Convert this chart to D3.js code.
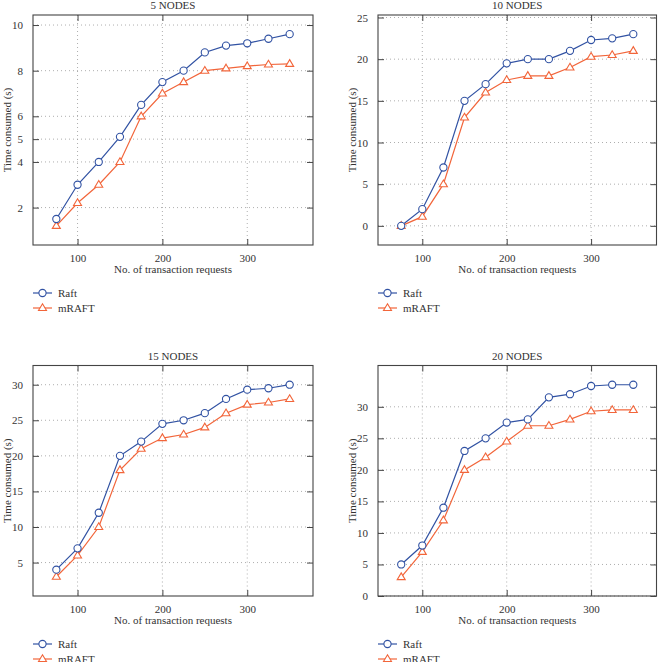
<!DOCTYPE html>
<html><head><meta charset="utf-8">
<script src="https://cdn.jsdelivr.net/npm/d3@7"></script>
<style>
body{margin:0;background:#fff;}
svg text{font-family:"Liberation Serif","Times New Roman","DejaVu Serif",serif !important;}
</style></head><body>
<svg id="c" width="658" height="662"></svg>
<script>
const requests = [75,100,125,150,175,200,225,250,275,300,325,350];
const xTicks = [100,200,300];
const seriesNames = ["Raft","mRAFT"];
const titles = ["5 NODES","10 NODES","15 NODES","20 NODES"];

const raft5  = [1.5,3.0,4.0,5.1,6.5,7.5,8.0,8.8,9.1,9.2,9.4,9.6];
const mraft5 = [1.2,2.2,3.0,4.0,6.0,7.0,7.5,8.0,8.1,8.2,8.27,8.3];
const raft10  = [0,2,7,15,17,19.5,20,20,21,22.3,22.5,23];
const mraft10 = [0,1.1,5,13,16,17.5,18,18,19,20.3,20.5,21];
const raft15  = [4,7,12,20,22,24.5,25,26,28,29.3,29.5,30];
const mraft15 = [3,6,10,18,21,22.5,23,24,26,27.2,27.5,28];
const raft20  = [5,8,14,23,25,27.5,28,31.5,32,33.3,33.5,33.5];
const mraft20 = [3,7,12,20,22,24.5,27,27,28,29.3,29.5,29.5];

const yTicks5  = [2,4,5,6,8,10];
const yTicks10 = [0,5,10,15,20,25];
const yTicks15 = [5,10,15,20,25,30];
const yTicks20 = [0,5,10,15,20,25,30];

const panels = [
  {title:titles[0], raft:raft5,  mraft:mraft5,  ticks:yTicks5,  yMin:null, x0:33,  y0:15,  w:280, h:230, lx:7},
  {title:titles[1], raft:raft10, mraft:mraft10, ticks:yTicks10, yMin:null, x0:378, y0:15,  w:278.5, h:230, lx:352},
  {title:titles[2], raft:raft15, mraft:mraft15, ticks:yTicks15, yMin:null, x0:33,  y0:365.5,w:280, h:230.5, lx:7},
  {title:titles[3], raft:raft20, mraft:mraft20, ticks:yTicks20, yMin:0,    x0:378, y0:365.5,w:278.5, h:230.5, lx:352}
];

const colors = {Raft:"#3152a3", mRAFT:"#f2653a"};
const svg = d3.select("#c");
const axisColor = "#444";
const fs = 11;
const txt = "#333";

function marker(g, name, x, y){
  if(name==="Raft"){
    g.append("circle").attr("cx",x).attr("cy",y).attr("r",3.6)
     .attr("fill","#fff").attr("stroke",colors.Raft).attr("stroke-width",1.1);
  } else {
    const s=4.2;
    g.append("path").attr("d",`M${x},${y-s}L${x+s*0.95},${y+s*0.6}L${x-s*0.95},${y+s*0.6}Z`)
     .attr("fill","#fff").attr("stroke",colors.mRAFT).attr("stroke-width",1.1);
  }
}

panels.forEach(p=>{
  const xr = d3.extent(requests), xpad = (xr[1]-xr[0])*0.1;
  const all = p.raft.concat(p.mraft);
  const yr = d3.extent(all), ypad = (yr[1]-yr[0])*0.1;
  const x = d3.scaleLinear().domain([xr[0]-xpad, xr[1]+xpad]).range([p.x0, p.x0+p.w]);
  const y = d3.scaleLinear().domain([p.yMin!==null?p.yMin:yr[0]-ypad, yr[1]+ypad]).range([p.y0+p.h, p.y0]);
  const g = svg.append("g");

  // grid
  g.selectAll(null).data(xTicks).enter().append("line")
   .attr("x1",d=>x(d)).attr("x2",d=>x(d)).attr("y1",p.y0).attr("y2",p.y0+p.h)
   .attr("stroke","#999").attr("stroke-width",0.8).attr("stroke-dasharray","1,3");
  g.selectAll(null).data(p.ticks).enter().append("line")
   .attr("x1",p.x0).attr("x2",p.x0+p.w).attr("y1",d=>y(d)).attr("y2",d=>y(d))
   .attr("stroke","#999").attr("stroke-width",0.8).attr("stroke-dasharray","1,3");

  // axes with inward ticks
  const ax = [
    d3.axisBottom(x).tickValues(xTicks).tickSize(-6).tickPadding(9).tickFormat(d3.format("d")),
    d3.axisTop(x).tickValues(xTicks).tickSize(-6).tickFormat(""),
    d3.axisLeft(y).tickValues(p.ticks).tickSize(-6).tickPadding(10).tickFormat(d3.format("d")),
    d3.axisRight(y).tickValues(p.ticks).tickSize(-6).tickFormat("")
  ];
  const pos = [`translate(0,${p.y0+p.h})`,`translate(0,${p.y0})`,`translate(${p.x0},0)`,`translate(${p.x0+p.w},0)`];
  ax.forEach((a,i)=>{
    const ag = g.append("g").attr("transform",pos[i]).call(a);
    ag.attr("font-family",null);
    ag.select(".domain").remove();
    ag.selectAll("line").attr("stroke",axisColor).attr("stroke-width",1);
    ag.selectAll("text").attr("font-size",fs).attr("fill",txt);
  });
  g.append("rect").attr("x",p.x0).attr("y",p.y0).attr("width",p.w).attr("height",p.h)
   .attr("fill","none").attr("stroke",axisColor).attr("stroke-width",1.1);

  // series
  const line = d3.line().x((d,i)=>x(requests[i])).y(d=>y(d));
  [["Raft",p.raft],["mRAFT",p.mraft]].forEach(([name,vals])=>{
    g.append("path").datum(vals).attr("d",line).attr("fill","none")
     .attr("stroke",colors[name]).attr("stroke-width",1.2);
  });
  [["mRAFT",p.mraft],["Raft",p.raft]].forEach(([name,vals])=>{
    vals.forEach((v,i)=>marker(g,name,x(requests[i]),y(v)));
  });

  // title & labels
  g.append("text").attr("x",p.x0+p.w/2).attr("y",p.y0-6).attr("text-anchor","middle")
   .attr("font-size",fs).attr("fill",txt).text(p.title);
  g.append("text").attr("x",p.x0+p.w/2).attr("y",p.y0+p.h+28).attr("text-anchor","middle")
   .attr("font-size",fs).attr("fill",txt).text("No. of transaction requests");
  const ly = p.y0+p.h/2;
  g.append("text").attr("transform",`translate(${p.lx+3.5},${ly}) rotate(-90)`).attr("text-anchor","middle")
   .attr("font-size",fs).attr("fill",txt).text("Time consumed (s)");

  // legend
  seriesNames.forEach((name,i)=>{
    const yy = p.y0+p.h+48+i*15;
    g.append("line").attr("x1",p.x0).attr("x2",p.x0+19).attr("y1",yy).attr("y2",yy)
     .attr("stroke",colors[name]).attr("stroke-width",1.2);
    marker(g,name,p.x0+9.5,yy);
    g.append("text").attr("x",p.x0+25).attr("y",yy+3.5).attr("font-size",fs).attr("fill",txt).text(name);
  });
});
</script></body></html>
